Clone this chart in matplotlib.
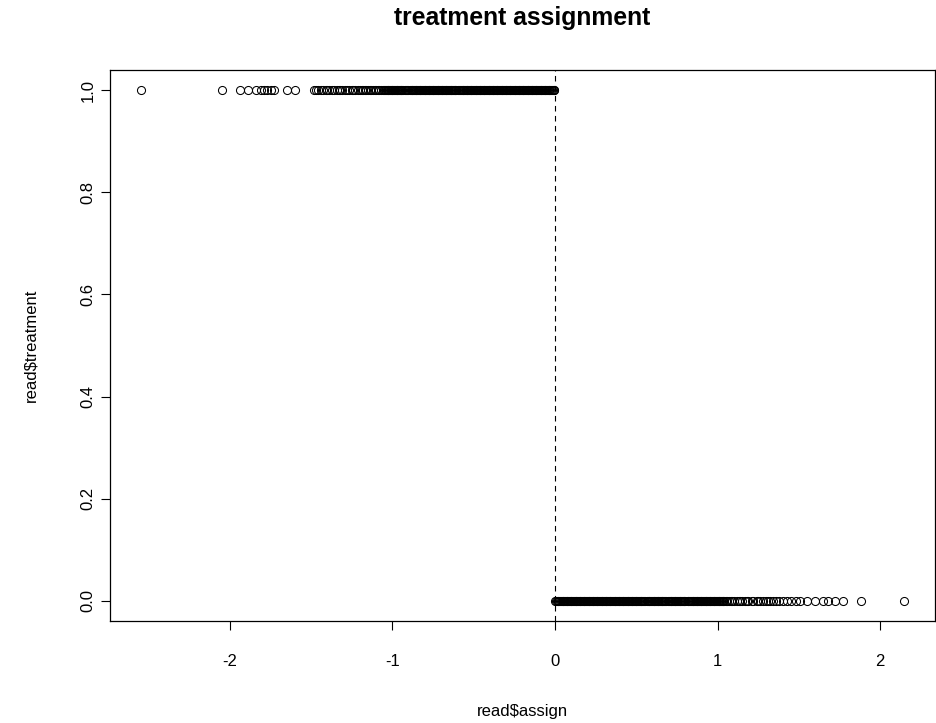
import matplotlib
matplotlib.use('Agg')
import matplotlib.pyplot as plt

plt.rcParams['font.family'] = ['Liberation Sans', 'DejaVu Sans']

# assignment variable for treated units (treatment = 1)
assign_treated = [
    -2.55, -2.05, -1.94, -1.89, -1.84, -1.81, -1.79, -1.77, -1.75, -1.73, -1.65, -1.60,
    -1.48, -1.47, -1.46, -1.44, -1.43, -1.41, -1.40, -1.39, -1.37, -1.36, -1.34, -1.33,
    -1.32, -1.31, -1.29, -1.28, -1.27, -1.25, -1.24, -1.23, -1.21, -1.20, -1.19, -1.18,
    -1.17, -1.16, -1.15, -1.14, -1.13, -1.12, -1.11, -1.10, -1.09, -1.08, -1.07, -1.06,
    -1.050, -1.045, -1.040, -1.035, -1.030, -1.025, -1.020, -1.015, -1.010, -1.005,
    -1.000, -0.995, -0.990, -0.985, -0.980, -0.975, -0.970, -0.965, -0.960, -0.955,
    -0.950, -0.945, -0.940, -0.935, -0.922, -0.917, -0.912, -0.907, -0.893, -0.888,
    -0.883, -0.878, -0.873, -0.868, -0.863, -0.858, -0.853, -0.848, -0.843, -0.838,
    -0.833, -0.828, -0.823, -0.818, -0.813, -0.808, -0.803, -0.798, -0.793, -0.788,
    -0.783, -0.778, -0.773, -0.768, -0.763, -0.758, -0.753, -0.748, -0.743, -0.738,
    -0.733, -0.728, -0.723, -0.718, -0.713, -0.708, -0.703, -0.698, -0.693, -0.688,
    -0.683, -0.678, -0.673, -0.668, -0.663, -0.658, -0.653, -0.648, -0.643, -0.638,
    -0.633, -0.628, -0.623, -0.618, -0.613, -0.608, -0.594, -0.589, -0.584, -0.579,
    -0.574, -0.569, -0.564, -0.559, -0.554, -0.549, -0.544, -0.539, -0.534, -0.529,
    -0.524, -0.519, -0.514, -0.509, -0.504, -0.499, -0.494, -0.489, -0.484, -0.479,
    -0.474, -0.469, -0.464, -0.459, -0.454, -0.449, -0.444, -0.439, -0.434, -0.429,
    -0.424, -0.419, -0.414, -0.409, -0.404, -0.399, -0.394, -0.389, -0.384, -0.379,
    -0.374, -0.369, -0.364, -0.359, -0.354, -0.349, -0.344, -0.339, -0.334, -0.329,
    -0.324, -0.319, -0.314, -0.309, -0.304, -0.299, -0.294, -0.289, -0.284, -0.279,
    -0.274, -0.269, -0.264, -0.259, -0.254, -0.249, -0.244, -0.239, -0.234, -0.229,
    -0.224, -0.219, -0.214, -0.209, -0.204, -0.199, -0.194, -0.189, -0.184, -0.179,
    -0.174, -0.169, -0.164, -0.159, -0.154, -0.149, -0.144, -0.139, -0.134, -0.129,
    -0.124, -0.119, -0.114, -0.109, -0.104, -0.099, -0.094, -0.089, -0.084, -0.079,
    -0.074, -0.069, -0.064, -0.059, -0.054, -0.049, -0.044, -0.039, -0.034, -0.029,
    -0.024, -0.019, -0.014, -0.009, -0.004,
]

# assignment variable for control units (treatment = 0)
assign_control = [
    0.002, 0.006, 0.011, 0.016, 0.021, 0.026, 0.031, 0.036, 0.041, 0.046,
    0.051, 0.056, 0.061, 0.066, 0.071, 0.076, 0.081, 0.086, 0.091, 0.096,
    0.101, 0.106, 0.111, 0.116, 0.121, 0.126, 0.131, 0.136, 0.141, 0.146,
    0.151, 0.156, 0.161, 0.166, 0.171, 0.176, 0.181, 0.186, 0.191, 0.196,
    0.201, 0.206, 0.211, 0.216, 0.221, 0.226, 0.231, 0.236, 0.241, 0.246,
    0.251, 0.256, 0.261, 0.266, 0.271, 0.276, 0.281, 0.286, 0.291, 0.296,
    0.301, 0.306, 0.311, 0.316, 0.321, 0.326, 0.331, 0.336, 0.341, 0.346,
    0.351, 0.356, 0.361, 0.366, 0.371, 0.376, 0.381, 0.386, 0.391, 0.396,
    0.401, 0.406, 0.411, 0.416, 0.421, 0.426, 0.431, 0.436, 0.441, 0.446,
    0.451, 0.456, 0.461, 0.466, 0.471, 0.476, 0.481, 0.486, 0.491, 0.496,
    0.501, 0.506, 0.511, 0.516, 0.521, 0.526, 0.531, 0.536, 0.541, 0.546,
    0.551, 0.566, 0.571, 0.576, 0.581, 0.586, 0.591, 0.596, 0.601, 0.606,
    0.611, 0.616, 0.621, 0.626, 0.631, 0.636, 0.641, 0.646, 0.651, 0.656,
    0.661, 0.666, 0.671, 0.676, 0.681, 0.696, 0.701, 0.706, 0.711, 0.716,
    0.721, 0.726, 0.731, 0.736, 0.741, 0.746, 0.751, 0.756, 0.761, 0.766,
    0.771, 0.776, 0.781, 0.786, 0.791, 0.796, 0.801, 0.816, 0.821, 0.826,
    0.831, 0.836, 0.841, 0.846, 0.851, 0.856, 0.861, 0.866, 0.871, 0.876,
    0.881, 0.886, 0.891, 0.896, 0.901, 0.906, 0.911, 0.916, 0.921, 0.926,
    0.931, 0.936, 0.941, 0.946, 0.951, 0.956, 0.961, 0.966, 0.971, 0.976,
    0.981, 0.986, 0.991, 0.996, 1.001, 1.006, 1.011, 1.016, 1.021, 1.026,
    1.031, 1.036, 1.042,
    1.05, 1.06, 1.07, 1.08, 1.09, 1.10, 1.12, 1.13, 1.14, 1.15, 1.17, 1.18, 1.19,
    1.21, 1.22, 1.24, 1.25, 1.26, 1.28, 1.30, 1.31, 1.32, 1.34, 1.36, 1.38, 1.40, 1.43,
    1.45, 1.48, 1.51, 1.55, 1.60, 1.65, 1.68, 1.72, 1.77, 1.88, 2.15,
]

assign = assign_treated + assign_control
treatment = [1] * len(assign_treated) + [0] * len(assign_control)

x_ticks = [-2, -1, 0, 1, 2]
y_ticks = [0.0, 0.2, 0.4, 0.6, 0.8, 1.0]

fig = plt.figure(figsize=(9.37, 7.23), dpi=100)
ax = fig.add_axes([0.1174, 0.1405, 0.8805, 0.7632])

ax.plot(assign, treatment, linestyle='none', marker='o', markersize=5.8,
        markerfacecolor='none', markeredgecolor='black', markeredgewidth=0.75)
ax.axvline(0, color='black', linestyle=(0, (5, 4)), linewidth=0.8)

# R style: 4% padding on each side
xr = max(assign) - min(assign)
ax.set_xlim(min(assign) - 0.04 * xr, max(assign) + 0.04 * xr)
ax.set_ylim(-0.04, 1.04)

ax.set_xticks(x_ticks)
ax.set_xticklabels([str(t) for t in x_ticks])
ax.set_yticks(y_ticks)
ax.set_yticklabels(['%.1f' % t for t in y_ticks], rotation=90, va='center')
ax.tick_params(direction='out', length=6.5, width=0.8, labelsize=12, colors='black')
ax.tick_params(axis='x', pad=17)
ax.tick_params(axis='y', pad=4)

for s in ax.spines.values():
    s.set_linewidth(0.9)

ax.set_xlabel('read$assign', fontsize=12, labelpad=25)
ax.set_ylabel('read$treatment', fontsize=12, labelpad=30)
ax.set_title('treatment assignment', fontsize=17.8, fontweight='bold', pad=32)

fig.savefig('out.png', dpi=100)
